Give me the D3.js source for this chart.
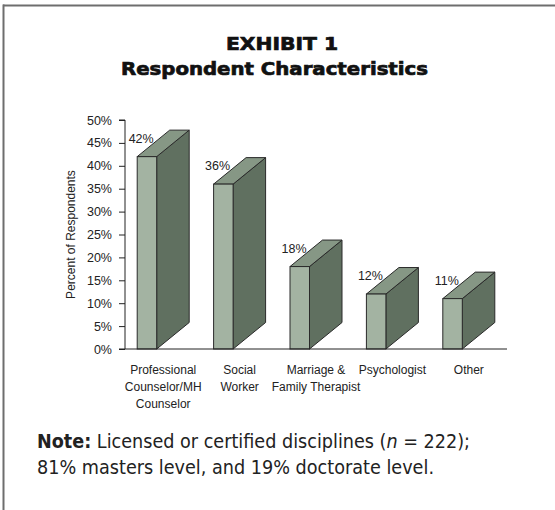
<!DOCTYPE html>
<html>
<head>
<meta charset="utf-8">
<script src="https://cdn.jsdelivr.net/npm/d3@7"></script>
<style>
  html, body { margin: 0; padding: 0; background: #fff; }
  svg { display: block; }
</style>
</head>
<body>
<svg id="chart" width="555" height="510"></svg>
<script>
// ---- data ----
const categories = ["Professional\nCounselor/MH\nCounselor", "Social\nWorker", "Marriage &\nFamily Therapist", "Psychologist", "Other"];
const values = [42, 36, 18, 12, 11];
const yTicks = [0, 5, 10, 15, 20, 25, 30, 35, 40, 45, 50];
const titleLines = ["EXHIBIT 1", "Respondent Characteristics"];
const yAxisTitle = "Percent of Respondents";

// ---- layout ----
const svg = d3.select("#chart");
const axisX = 125, baseY = 349, topY = 120, rightX = 507;
const frontW = 19.5, depthX = 32.5, depthY = 26.5;

const x = d3.scaleBand().domain(categories).range([axisX, rightX]);
const y = d3.scaleLinear().domain([0, 50]).range([baseY, topY]);

// frame (top and left edges)
svg.append("line").attr("x1", 3).attr("x2", 555).attr("y1", 5.5).attr("y2", 5.5)
  .attr("stroke", "#6e6e6e").attr("stroke-width", 2);
svg.append("line").attr("x1", 3.5).attr("x2", 3.5).attr("y1", 4.5).attr("y2", 510)
  .attr("stroke", "#6e6e6e").attr("stroke-width", 2);

// titles
svg.append("text").attr("x", 282).attr("y", 50).attr("text-anchor", "middle")
  .attr("font-family", "DejaVu Sans, Liberation Sans, sans-serif").attr("font-weight", "bold")
  .attr("font-size", 18).attr("fill", "#111").attr("stroke", "#111").attr("stroke-width", 0.7)
  .attr("textLength", 112).attr("lengthAdjust", "spacingAndGlyphs")
  .text(titleLines[0]);
svg.append("text").attr("x", 274.5).attr("y", 74.5).attr("text-anchor", "middle")
  .attr("font-family", "DejaVu Sans, Liberation Sans, sans-serif").attr("font-weight", "bold")
  .attr("font-size", 17.5).attr("fill", "#111").attr("stroke", "#111").attr("stroke-width", 0.7)
  .attr("textLength", 307).attr("lengthAdjust", "spacingAndGlyphs")
  .text(titleLines[1]);

// y axis
const yAxis = d3.axisLeft(y).tickValues(yTicks).tickFormat(d => d + "%").tickSize(6).tickPadding(7);
const gy = svg.append("g").attr("transform", `translate(${axisX},0)`).call(yAxis);
gy.attr("font-family", "Liberation Sans, Arial, sans-serif");
gy.select(".domain").attr("stroke", "#222").attr("d", `M-6,${topY}H0V${baseY}`);
gy.selectAll(".tick line").attr("stroke", "#222");
gy.selectAll(".tick text").attr("fill", "#222").attr("font-size", 12.5)
  .attr("font-family", "Liberation Sans, Arial, sans-serif");

// y axis title
svg.append("text")
  .attr("transform", `translate(75,${(topY + baseY) / 2}) rotate(-90)`)
  .attr("text-anchor", "middle").attr("font-size", 12)
  .attr("font-family", "Liberation Sans, Arial, sans-serif").attr("fill", "#222")
  .text(yAxisTitle);

const frontLeft = c => x(c) + x.bandwidth() / 2 - (frontW + depthX) / 2;

// value labels (behind bars)
svg.append("g").selectAll("text").data(categories).join("text")
  .attr("x", (c) => frontLeft(c) + 4)
  .attr("y", (c, i) => y(values[i]) - 14)
  .attr("text-anchor", "middle").attr("font-size", 12.5)
  .attr("font-family", "Liberation Sans, Arial, sans-serif").attr("fill", "#222")
  .text((c, i) => values[i] + "%");

// 3D bars
const bars = svg.append("g").selectAll("g").data(categories).join("g");
bars.each(function (c, i) {
  const g = d3.select(this);
  const x0 = frontLeft(c), x1 = x0 + frontW;
  const yt = y(values[i]), yb = y(0);
  g.append("path")
    .attr("d", `M${x1},${yt}L${x1 + depthX},${yt - depthY}L${x1 + depthX},${yb - depthY}L${x1},${yb}Z`)
    .attr("fill", "#607060").attr("stroke", "#2a2a2a").attr("stroke-width", 1).attr("stroke-linejoin", "round");
  g.append("path")
    .attr("d", `M${x0},${yt}L${x0 + depthX},${yt - depthY}L${x1 + depthX},${yt - depthY}L${x1},${yt}Z`)
    .attr("fill", "#869785").attr("stroke", "#2a2a2a").attr("stroke-width", 1).attr("stroke-linejoin", "round");
  g.append("rect")
    .attr("x", x0).attr("y", yt).attr("width", frontW).attr("height", yb - yt)
    .attr("fill", "#a3b3a2").attr("stroke", "#2a2a2a").attr("stroke-width", 1);
});

// baseline
svg.append("line").attr("x1", axisX - 6).attr("x2", rightX).attr("y1", baseY).attr("y2", baseY)
  .attr("stroke", "#222").attr("stroke-width", 1);

// category labels
const xl = svg.append("g").selectAll("text").data(categories).join("text")
  .attr("text-anchor", "middle").attr("font-size", 12)
  .attr("font-family", "Liberation Sans, Arial, sans-serif").attr("fill", "#222")
  .attr("transform", c => `translate(${x(c) + x.bandwidth() / 2},374)`);
xl.selectAll("tspan").data(c => c.split("\n")).join("tspan")
  .attr("x", 0).attr("dy", (d, j) => j === 0 ? 0 : 17).text(d => d);

// note
const note = svg.append("text").attr("x", 37).attr("y", 448)
  .attr("font-family", "Liberation Sans Narrow, DejaVu Sans Condensed, Liberation Sans, sans-serif")
  .attr("font-size", 19.5).attr("fill", "#222")
  .attr("textLength", 433).attr("lengthAdjust", "spacingAndGlyphs");
note.append("tspan").attr("font-weight", "bold").text("Note:");
note.append("tspan").text(" Licensed or certified disciplines (");
note.append("tspan").attr("font-style", "italic").text("n");
note.append("tspan").text(" = 222);");
svg.append("text").attr("x", 37).attr("y", 474)
  .attr("font-family", "Liberation Sans Narrow, DejaVu Sans Condensed, Liberation Sans, sans-serif")
  .attr("font-size", 19.5).attr("fill", "#222")
  .attr("textLength", 397).attr("lengthAdjust", "spacingAndGlyphs")
  .text("81% masters level, and 19% doctorate level.");
</script>
</body>
</html>
